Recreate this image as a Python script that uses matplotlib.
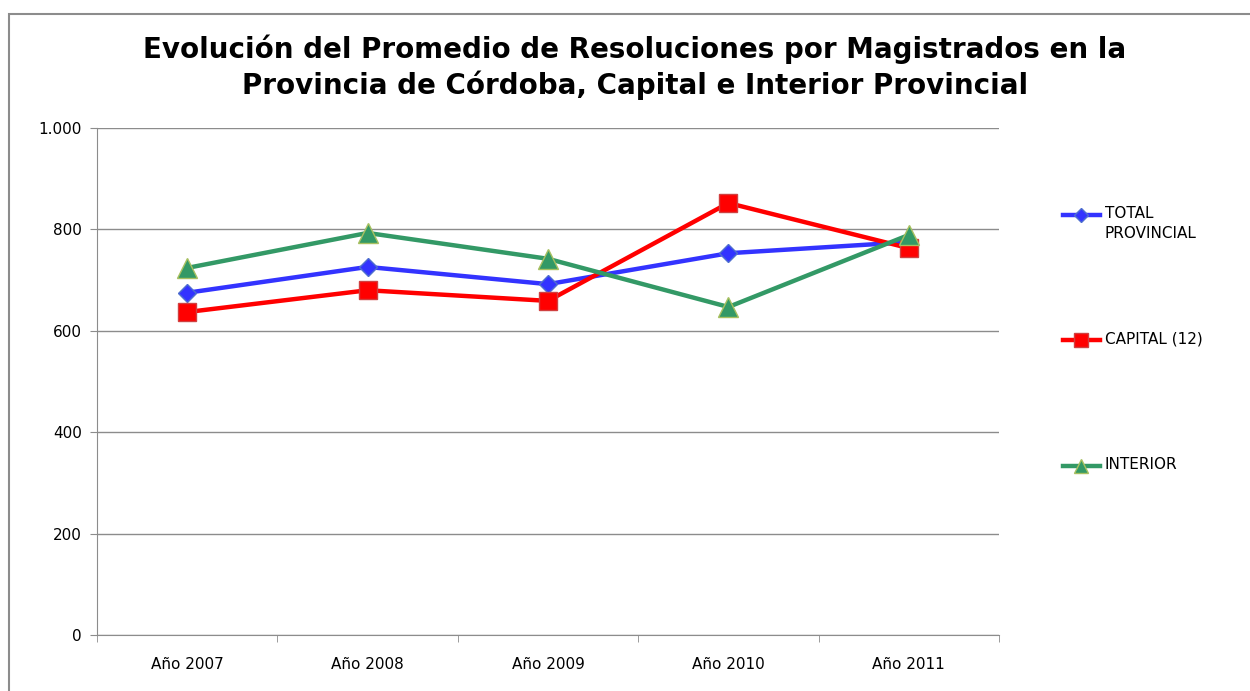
import matplotlib.pyplot as plt
from matplotlib.lines import Line2D
from matplotlib.patches import Rectangle

years = ['Año 2007', 'Año 2008', 'Año 2009', 'Año 2010', 'Año 2011']
total_provincial = [675, 726, 692, 753, 775]
capital = [637, 680, 659, 852, 763]
interior = [724, 793, 742, 647, 789]

fig = plt.figure(figsize=(12.5, 6.91), dpi=100)
# outer chart frame
fig.patches.append(Rectangle((9 / 1250, -0.01), 1.0, 1 - 14 / 691 + 0.01, transform=fig.transFigure,
                             fill=False, edgecolor='#8c8c8c', linewidth=1.5))

ax = fig.add_axes([97 / 1250, 56 / 691, 902 / 1250, 507 / 691])
x = range(len(years))

series = [
    ('TOTAL\nPROVINCIAL', total_provincial, '#3333ff', 'D', 9, '#4f6fcf'),
    ('CAPITAL (12)', capital, '#ff0000', 's', 13, '#d04040'),
    ('INTERIOR', interior, '#339966', '^', 14, '#a8c060'),
]
for i, (label, vals, col, mk, ms, edge) in enumerate(series):
    ax.plot(x, vals, color=col, linewidth=3.2, marker=mk, markersize=ms,
            markerfacecolor=col, markeredgecolor=edge, zorder=3 + i)

ax.set_xlim(-0.5, 4.5)
ax.set_ylim(0, 1000)
ax.set_yticks([0, 200, 400, 600, 800, 1000])
ax.set_yticklabels(['0', '200', '400', '600', '800', '1.000'])
ax.set_xticks(x)
ax.set_xticklabels(years)
ax.set_xticks([i - 0.5 for i in range(6)], minor=True)
ax.tick_params(axis='x', which='major', length=0, pad=16, labelsize=11)
ax.tick_params(axis='x', which='minor', length=5, color='#8c8c8c', direction='out')
ax.tick_params(axis='y', length=5, color='#8c8c8c', labelsize=11, pad=6)
ax.grid(axis='y', color='#8c8c8c', linewidth=1)
ax.set_axisbelow(True)
for side in ['top', 'right']:
    ax.spines[side].set_visible(False)
ax.spines['left'].set_color('#8c8c8c')
ax.spines['bottom'].set_color('#8c8c8c')

fig.suptitle('Evolución del Promedio de Resoluciones por Magistrados en la\nProvincia de Córdoba, Capital e Interior Provincial',
             fontsize=20, fontweight='bold', x=635 / 1250, y=1 - 34 / 691, va='top', linespacing=1.3)

# legend entries, drawn by hand so the first line of each label sits on its line
legend_y = [215, 340, 466]
for (label, vals, col, mk, ms, edge), yy in zip(series, legend_y):
    yf = 1 - yy / 691
    fig.add_artist(Line2D([1063 / 1250, 1100 / 1250], [yf, yf], transform=fig.transFigure,
                          color=col, linewidth=3.2))
    fig.add_artist(Line2D([1081 / 1250], [yf], transform=fig.transFigure, marker=mk,
                          markersize=ms * 0.75, markerfacecolor=col, markeredgecolor=edge))
    fig.text(1105 / 1250, yf + 9 / 691, label, fontsize=11, va='top', ha='left', linespacing=1.45)

fig.savefig('out.png', dpi=100)
